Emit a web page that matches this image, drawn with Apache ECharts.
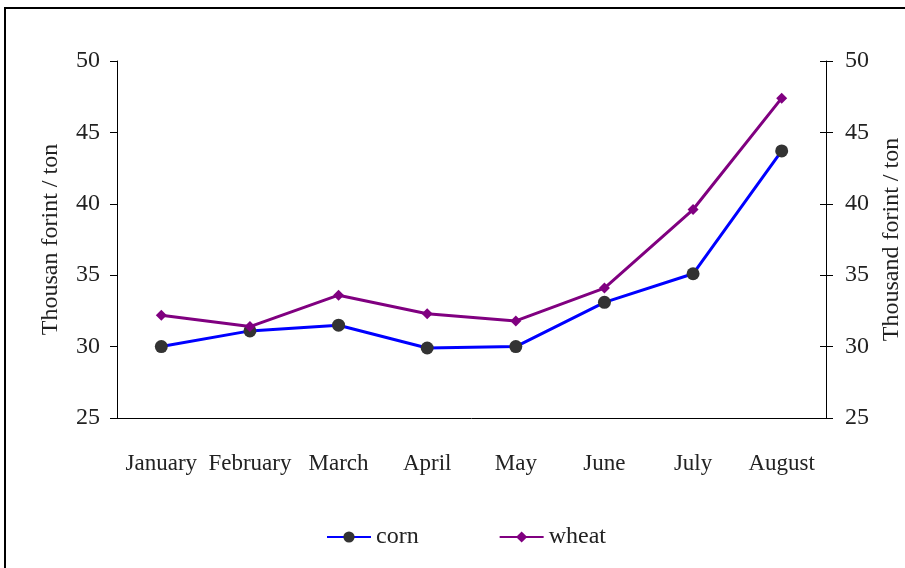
<!DOCTYPE html>
<html>
<head>
<meta charset="utf-8">
<script src="https://cdn.jsdelivr.net/npm/echarts@6/dist/echarts.min.js"></script>
<style>
  html, body { margin: 0; padding: 0; background: #fff; }
  #chart { width: 905px; height: 568px; }
</style>
</head>
<body>
<div id="chart"></div>
<script>
// data
const months = ['January', 'February', 'March', 'April', 'May', 'June', 'July', 'August'];
const corn = [30.0, 31.1, 31.5, 29.9, 30.0, 33.1, 35.1, 43.7];
const wheat = [32.2, 31.4, 33.6, 32.3, 31.8, 34.1, 39.6, 47.4];

const font = 'Liberation Serif';
const chart = echarts.init(document.getElementById('chart'));

const yBase = {
    type: 'value',
    min: 25,
    max: 50,
    interval: 5,
    splitLine: { show: false },
    axisLine: { show: true, lineStyle: { color: '#000', width: 1 } },
    axisTick: { show: true, length: 7, lineStyle: { color: '#000' } },
    axisLabel: { color: '#222', fontFamily: font, fontSize: 24 },
    nameLocation: 'middle',
    nameRotate: 90,
    nameTextStyle: { color: '#222', fontFamily: font, fontSize: 24 }
};

chart.setOption({
    animation: false,
    graphic: [{
        type: 'rect',
        shape: { x: 5, y: 8, width: 910, height: 580 },
        style: { fill: 'none', stroke: '#000', lineWidth: 2 }
    }],
    grid: { left: 117, right: 79, top: 61, bottom: 150, outerBoundsMode: 'none' },
    legend: {
        left: 326,
        top: 525,
        padding: 0,
        itemWidth: 44,
        itemHeight: 14,
        itemGap: 80,
        textStyle: { color: '#222', fontFamily: font, fontSize: 24 },
        data: ['corn', 'wheat']
    },
    xAxis: {
        type: 'category',
        data: months,
        axisLine: { lineStyle: { color: '#000' } },
        axisTick: { length: 7, lineStyle: { color: '#000' } },
        axisLabel: { color: '#222', fontFamily: font, fontSize: 23, margin: 34, interval: 0 }
    },
    yAxis: [
        Object.assign({}, yBase, {
            position: 'left',
            name: 'Thousan forint / ton',
            nameGap: 54,
            axisLabel: Object.assign({}, yBase.axisLabel, { margin: 17 })
        }),
        Object.assign({}, yBase, {
            position: 'right',
            name: 'Thousand forint / ton',
            nameGap: 52,
            axisLabel: Object.assign({}, yBase.axisLabel, { margin: 19 })
        }),
        // inner half of the right axis ticks
        Object.assign({}, yBase, {
            position: 'right',
            axisLine: { show: false },
            axisTick: { show: true, inside: true, length: 6, lineStyle: { color: '#000' } },
            axisLabel: { show: false },
            name: ''
        })
    ],
    series: [
        {
            name: 'corn',
            type: 'line',
            data: corn,
            symbol: 'circle',
            symbolSize: 13,
            lineStyle: { color: '#0000ff', width: 3 },
            itemStyle: { color: '#333333' }
        },
        {
            name: 'wheat',
            type: 'line',
            data: wheat,
            symbol: 'diamond',
            symbolSize: 11,
            lineStyle: { color: '#800080', width: 3 },
            itemStyle: { color: '#800080' }
        }
    ]
});
</script>
</body>
</html>
